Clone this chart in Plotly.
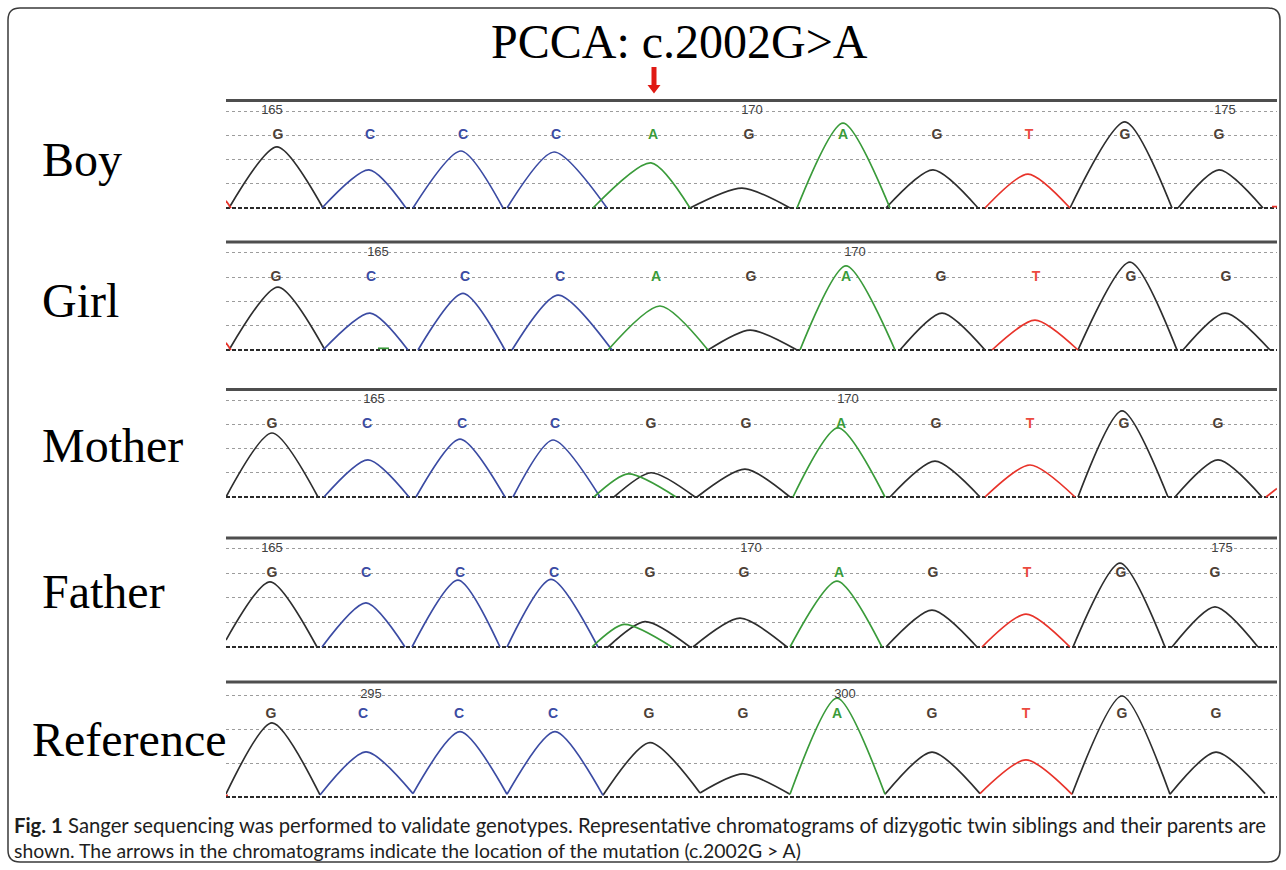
import plotly.graph_objects as go

W, H = 1286, 870

# ---------------- DATA ----------------
PANEL_NAMES = ["Boy", "Girl", "Mother", "Father", "Reference"]
TITLE = "PCCA: c.2002G>A"
CAPTION_1 = ("<b>Fig. 1</b> Sanger sequencing was performed to validate genotypes. "
             "Representative chromatograms of dizygotic twin siblings and their parents are")
CAPTION_2 = ("shown. The arrows in the chromatograms indicate the location of the mutation "
             "(c.2002G > A)")

# base calls (letters) and their scan positions
BOY_CALLS = ["G", "C", "C", "C", "A", "G", "A", "G", "T", "G", "G"]
BOY_CALL_X = [278, 370, 463, 556, 653, 749, 843, 937, 1029, 1125, 1219]
GIRL_CALLS = ["G", "C", "C", "C", "A", "G", "A", "G", "T", "G", "G"]
GIRL_CALL_X = [276, 371, 465, 560, 656, 751, 846, 941, 1036, 1131, 1226]
MOTHER_CALLS = ["G", "C", "C", "C", "G", "G", "A", "G", "T", "G", "G"]
MOTHER_CALL_X = [272, 367, 462, 555, 651, 746, 841, 936, 1030, 1124, 1218]
FATHER_CALLS = ["G", "C", "C", "C", "G", "G", "A", "G", "T", "G", "G"]
FATHER_CALL_X = [272, 366, 460, 554, 650, 744, 839, 933, 1027, 1121, 1215]
REF_CALLS = ["G", "C", "C", "C", "G", "G", "A", "G", "T", "G", "G"]
REF_CALL_X = [271, 363, 459, 553, 649, 743, 837, 932, 1026, 1122, 1216]

# base-position numbers
BOY_POS = ["165", "170", "175"]
BOY_POS_X = [272, 752, 1225]
GIRL_POS = ["165", "170"]
GIRL_POS_X = [378, 855]
MOTHER_POS = ["165", "170"]
MOTHER_POS_X = [374, 848]
FATHER_POS = ["165", "170", "175"]
FATHER_POS_X = [272, 751, 1222]
REF_POS = ["295", "300"]
REF_POS_X = [371, 845]

# peaks: dye, start, apex position, apex height, end, start level, end level
BOY_PEAK_BASE = ["G", "C", "C", "C", "A", "G", "A", "G", "T", "G", "G"]
BOY_PEAK_START = [229, 322, 413, 507, 593, 690, 797, 886, 985, 1070, 1178]
BOY_PEAK_X = [277, 369, 461, 554, 651, 742, 843, 933, 1028, 1125, 1219]
BOY_PEAK_H = [2.52, 1.57, 2.35, 2.31, 1.86, 0.82, 3.50, 1.57, 1.40, 3.55, 1.57]
BOY_PEAK_END = [323, 406, 503, 607, 690, 790, 890, 978, 1070, 1172, 1263]
BOY_START_Y = [0, 0, 0, 0, 0, 0, 0, 0, 0, 0, 0]
BOY_END_Y = [0, 0, 0, 0, 0, 0, 0, 0, 0, 0, 0]

GIRL_PEAK_BASE = ["G", "C", "C", "C", "A", "G", "A", "G", "T", "G", "G"]
GIRL_PEAK_START = [229, 323, 418, 512, 608, 708, 800, 900, 992, 1078, 1183]
GIRL_PEAK_X = [278, 370, 463, 558, 660, 750, 846, 942, 1035, 1130, 1225]
GIRL_PEAK_H = [2.59, 1.52, 2.33, 2.26, 1.81, 0.82, 3.46, 1.52, 1.23, 3.62, 1.52]
GIRL_PEAK_END = [325, 408, 505, 612, 708, 797, 895, 985, 1078, 1177, 1270]
GIRL_START_Y = [0, 0, 0, 0, 0, 0, 0, 0, 0, 0, 0]
GIRL_END_Y = [0, 0, 0, 0, 0, 0, 0, 0, 0, 0, 0]

MOTHER_PEAK_BASE = ["G", "C", "C", "C", "G", "A", "G", "A", "G", "T", "G", "G"]
MOTHER_PEAK_START = [226, 324, 416, 513, 614, 594, 697, 793, 890, 985, 1078, 1175]
MOTHER_PEAK_X = [272, 368, 460, 553, 651, 628, 745, 838, 935, 1030, 1122, 1218]
MOTHER_PEAK_H = [2.64, 1.53, 2.39, 2.35, 1.00, 0.95, 1.15, 2.85, 1.48, 1.32, 3.55, 1.53]
MOTHER_PEAK_END = [318, 409, 505, 600, 695, 676, 790, 885, 980, 1075, 1168, 1262]
MOTHER_START_Y = [0, 0, 0, 0, 0, 0, 0, 0, 0, 0, 0, 0]
MOTHER_END_Y = [0, 0, 0, 0, 0, 0, 0, 0, 0, 0, 0, 0]

FATHER_PEAK_BASE = ["G", "C", "C", "C", "G", "A", "G", "A", "G", "T", "G", "G"]
FATHER_PEAK_START = [226, 322, 412, 507, 608, 592, 693, 790, 886, 982, 1073, 1172]
FATHER_PEAK_X = [270, 366, 458, 551, 645, 624, 740, 837, 932, 1026, 1120, 1215]
FATHER_PEAK_H = [2.65, 1.79, 2.72, 2.75, 1.03, 0.92, 1.17, 2.68, 1.50, 1.34, 3.41, 1.63]
FATHER_PEAK_END = [317, 405, 500, 598, 690, 672, 787, 882, 977, 1070, 1165, 1258]
FATHER_START_Y = [0.28, 0, 0, 0, 0, 0, 0, 0, 0, 0, 0, 0]
FATHER_END_Y = [0, 0, 0, 0, 0, 0, 0, 0, 0, 0, 0, 0]

REF_PEAK_BASE = ["G", "C", "C", "C", "G", "G", "A", "G", "T", "G", "G"]
REF_PEAK_START = [226, 320, 413, 507, 603, 700, 790, 885, 980, 1072, 1170]
REF_PEAK_X = [272, 366, 460, 555, 650, 743, 837, 932, 1026, 1122, 1216]
REF_PEAK_H = [2.18, 1.33, 1.92, 1.92, 1.60, 0.68, 2.91, 1.32, 1.09, 2.97, 1.32]
REF_PEAK_END = [320, 413, 507, 603, 700, 790, 885, 980, 1072, 1170, 1265]
REF_START_Y = [0.09, 0.06, 0.10, 0.08, 0.05, 0.12, 0.08, 0.08, 0.10, 0.08, 0.08]
REF_END_Y = [0.06, 0.10, 0.08, 0.05, 0.12, 0.08, 0.08, 0.10, 0.08, 0.08, 0.10]

# small trace fragments at the panel edges
BOY_TAIL = dict(base=["T", "T"], x0=[226, 1272], y0=[0.30, 0.06], x1=[231, 1277], y1=[0.0, 0.06])
GIRL_TAIL = dict(base=["T", "A"], x0=[226, 378], y0=[0.30, 0.07], x1=[231, 389], y1=[0.0, 0.07])
MOTHER_TAIL = dict(base=["T"], x0=[1266], y0=[0.0], x1=[1277], y1=[0.35])
FATHER_TAIL = dict(base=[], x0=[], y0=[], x1=[], y1=[])
REF_TAIL = dict(base=["T"], x0=[226], y0=[0.05], x1=[228], y1=[0.05])

# ---------------- STYLE ----------------
TRACE_COLOR = {"G": "#2e2e2e", "C": "#3b4ba3", "A": "#3a9b3a", "T": "#e8332a"}
LABEL_COLOR = {"G": "#4d4036", "C": "#3b4ba3", "A": "#3a9b3a", "T": "#ec4a40"}

# panel geometry: top line px, baseline px, px per unit, grid levels, letter level,
# number level, name-label centre y px, name-label left x px
GEOM = [
    (100.5, 208, 24.25, [1, 2, 3, 4], 3, 4, 159, 40),
    (242, 350, 24.3, [1, 2, 3, 4], 3, 4, 300, 40),
    (389.5, 497, 24.25, [1, 2, 3, 4], 3, 4, 446, 40),
    (538, 647, 24.6, [1, 2, 3, 4], 3, 4, 591, 40),
    (682, 797, 34.0, [1, 2, 3], 2.43, 3, 739, 30),
]

PANELS = [
    (BOY_CALLS, BOY_CALL_X, BOY_POS, BOY_POS_X, BOY_PEAK_BASE, BOY_PEAK_START, BOY_PEAK_X,
     BOY_PEAK_H, BOY_PEAK_END, BOY_START_Y, BOY_END_Y, BOY_TAIL),
    (GIRL_CALLS, GIRL_CALL_X, GIRL_POS, GIRL_POS_X, GIRL_PEAK_BASE, GIRL_PEAK_START, GIRL_PEAK_X,
     GIRL_PEAK_H, GIRL_PEAK_END, GIRL_START_Y, GIRL_END_Y, GIRL_TAIL),
    (MOTHER_CALLS, MOTHER_CALL_X, MOTHER_POS, MOTHER_POS_X, MOTHER_PEAK_BASE, MOTHER_PEAK_START,
     MOTHER_PEAK_X, MOTHER_PEAK_H, MOTHER_PEAK_END, MOTHER_START_Y, MOTHER_END_Y, MOTHER_TAIL),
    (FATHER_CALLS, FATHER_CALL_X, FATHER_POS, FATHER_POS_X, FATHER_PEAK_BASE, FATHER_PEAK_START,
     FATHER_PEAK_X, FATHER_PEAK_H, FATHER_PEAK_END, FATHER_START_Y, FATHER_END_Y, FATHER_TAIL),
    (REF_CALLS, REF_CALL_X, REF_POS, REF_POS_X, REF_PEAK_BASE, REF_PEAK_START, REF_PEAK_X,
     REF_PEAK_H, REF_PEAK_END, REF_START_Y, REF_END_Y, REF_TAIL),
]

X0, X1 = 226, 1277
PAD = 6

fig = go.Figure()
shapes = []
annotations = []
layout_axes = {}

for i, (panel, geom) in enumerate(zip(PANELS, GEOM)):
    (calls, call_x, pos, pos_x, pbase, pstart, px, ph, pend, sy, ey, tail) = panel
    top_px, base_px, u, grid, letter_y, num_y, lab_y, lab_x = geom
    yname = "y" if i == 0 else f"y{i + 1}"
    ykey = "yaxis" if i == 0 else f"yaxis{i + 1}"
    top_units = (base_px - top_px) / u

    layout_axes[ykey] = dict(
        domain=[1 - (base_px + PAD) / H, 1 - (top_px - PAD) / H],
        range=[-PAD / u, top_units + PAD / u],
        anchor="x", tickvals=grid, showticklabels=False, ticks="",
        showgrid=True, gridcolor="#9c9c9c", gridwidth=1, griddash="3px,3px",
        zeroline=False, showline=False, fixedrange=True,
    )

    # peaks grouped by dye
    for dye in ["G", "C", "A", "T"]:
        xs, ys = [], []
        for b, s, p, h, e, y0, y1 in zip(pbase, pstart, px, ph, pend, sy, ey):
            if b == dye:
                xs += [s, p, e, None]
                ys += [y0, h, y1, None]
        for b, a0, b0, a1, b1 in zip(tail["base"], tail["x0"], tail["y0"], tail["x1"], tail["y1"]):
            if b == dye:
                xs += [a0, a1, None]
                ys += [b0, b1, None]
        if xs:
            fig.add_trace(go.Scatter(
                x=xs, y=ys, mode="lines", xaxis="x", yaxis=yname,
                line=dict(color=TRACE_COLOR[dye], width=1.7, shape="spline", smoothing=0.75),
                hoverinfo="skip", showlegend=False,
            ))

    # base-call letters
    fig.add_trace(go.Scatter(
        x=call_x, y=[letter_y] * len(call_x), mode="text", text=calls,
        textfont=dict(family="Liberation Sans", size=14, weight="bold",
                      color=[LABEL_COLOR[c] for c in calls]),
        xaxis="x", yaxis=yname, hoverinfo="skip", showlegend=False,
    ))
    # position numbers
    fig.add_trace(go.Scatter(
        x=pos_x, y=[num_y] * len(pos_x), mode="text", text=pos,
        textfont=dict(family="Liberation Sans", size=13, color="#3f3f3f"),
        xaxis="x", yaxis=yname, hoverinfo="skip", showlegend=False,
    ))

    # baseline and top line
    shapes.append(dict(type="line", xref="x", yref=yname, x0=X0, x1=X1, y0=0, y1=0,
                       line=dict(color="#2a2a2a", width=2, dash="4px,2px"), layer="below"))
    shapes.append(dict(type="line", xref="x", yref=yname, x0=X0, x1=X1, y0=top_units, y1=top_units,
                       line=dict(color="#4e4e4e", width=3), layer="above"))

    # sample name
    annotations.append(dict(
        text=PANEL_NAMES[i], xref="paper", yref="paper", x=lab_x / W, y=1 - lab_y / H,
        xanchor="left", yanchor="middle", showarrow=False,
        font=dict(family="Liberation Serif", size=48, color="#000000"),
    ))


def pp(x, y):
    return f"{x / W:.5f},{1 - y / H:.5f}"


# title
annotations.append(dict(
    text=TITLE, xref="paper", yref="paper", x=680 / W, y=1 - 42 / H,
    xanchor="center", yanchor="middle", showarrow=False,
    font=dict(family="Liberation Serif", size=48, color="#000000"),
))
# caption
annotations.append(dict(
    text=CAPTION_1, xref="paper", yref="paper", x=12 / W, y=1 - 825 / H,
    xanchor="left", yanchor="middle", showarrow=False,
    font=dict(family="Lato", size=20.3, color="#1e1e1e"),
))
annotations.append(dict(
    text=CAPTION_2, xref="paper", yref="paper", x=12 / W, y=1 - 850 / H,
    xanchor="left", yanchor="middle", showarrow=False,
    font=dict(family="Lato", size=19.4, color="#1e1e1e"),
))

# red arrow marking the mutation
arrow_path = ("M " + pp(651.5, 67) + " L " + pp(656.5, 67) + " L " + pp(656.5, 85) + " L "
              + pp(660.5, 85) + " L " + pp(654, 93.5) + " L " + pp(647.5, 85) + " L "
              + pp(651.5, 85) + " Z")
shapes.append(dict(type="path", xref="paper", yref="paper", path=arrow_path,
                   fillcolor="#e01a14", line=dict(width=0)))

# rounded outer frame
bx0, by0, bx1, by1, r = 8, 8, 1280, 862, 12
frame = ("M " + pp(bx0 + r, by0) + " L " + pp(bx1 - r, by0) + " Q " + pp(bx1, by0) + " " + pp(bx1, by0 + r)
         + " L " + pp(bx1, by1 - r) + " Q " + pp(bx1, by1) + " " + pp(bx1 - r, by1)
         + " L " + pp(bx0 + r, by1) + " Q " + pp(bx0, by1) + " " + pp(bx0, by1 - r)
         + " L " + pp(bx0, by0 + r) + " Q " + pp(bx0, by0) + " " + pp(bx0 + r, by0) + " Z")
shapes.append(dict(type="path", xref="paper", yref="paper", path=frame,
                   line=dict(color="#3a3a3a", width=1.5)))

fig.update_layout(
    width=W, height=H, margin=dict(l=0, r=0, t=0, b=0),
    paper_bgcolor="#ffffff", plot_bgcolor="rgba(0,0,0,0)",
    showlegend=False,
    xaxis=dict(domain=[X0 / W, X1 / W], range=[X0, X1], anchor="y5",
               showgrid=False, zeroline=False, showticklabels=False, ticks="",
               showline=False, fixedrange=True),
    shapes=shapes, annotations=annotations,
    **layout_axes,
)

fig.write_html("out.html", config={"displayModeBar": False},
               post_script="document.body.style.margin='0px';document.body.style.overflow='hidden';")
